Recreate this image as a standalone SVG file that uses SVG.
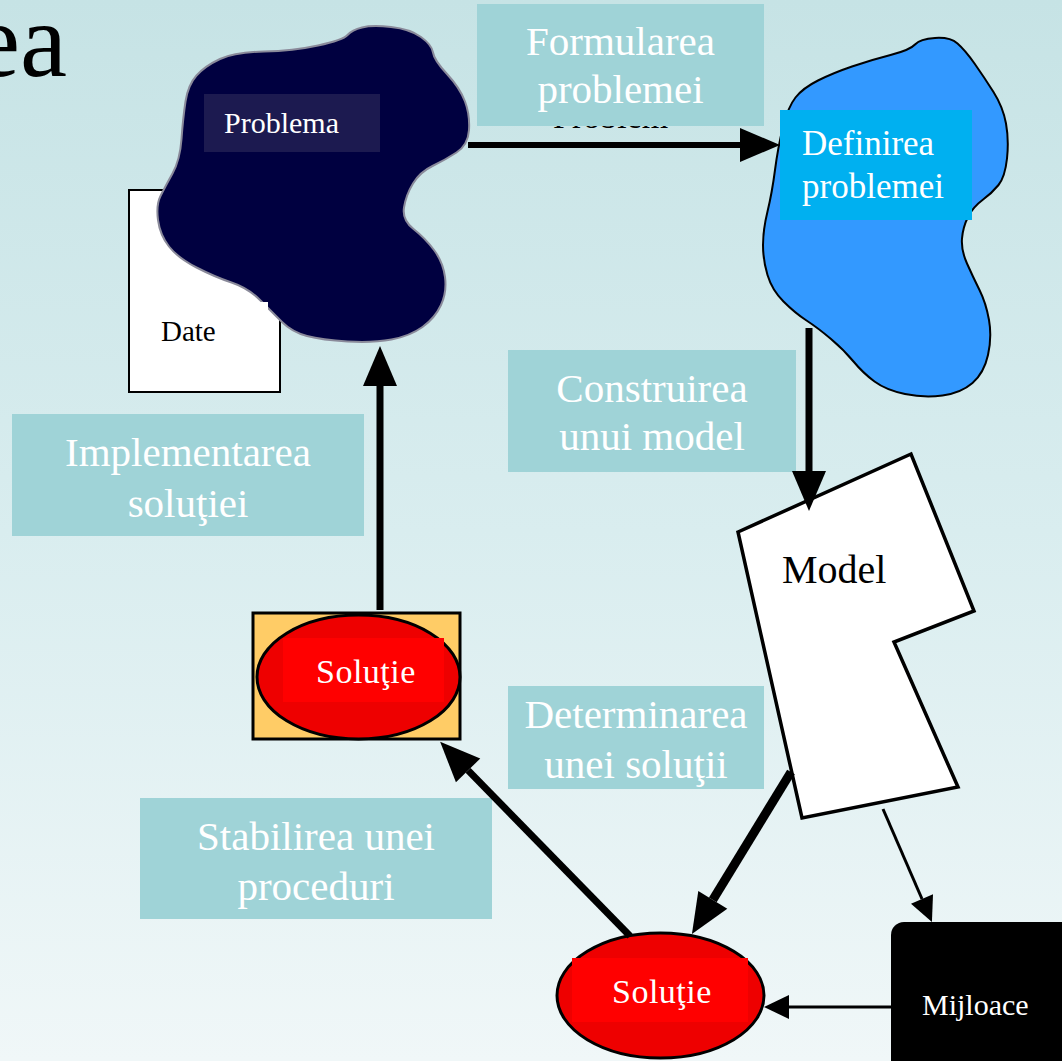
<svg xmlns="http://www.w3.org/2000/svg" width="1062" height="1061" viewBox="0 0 1062 1061">
  <defs>
    <linearGradient id="bg" x1="0" y1="0" x2="0" y2="1">
      <stop offset="0" stop-color="#c6e3e5"/>
      <stop offset="0.5" stop-color="#d9edef"/>
      <stop offset="1" stop-color="#f0f7f8"/>
    </linearGradient>
    <marker id="headBig" viewBox="0 -17 40 34" refX="0" refY="0" markerWidth="40" markerHeight="34" markerUnits="userSpaceOnUse" orient="auto" overflow="visible">
      <path d="M0,-17 L40,0 L0,17 Z" fill="#000"/>
    </marker>
    <marker id="headSmall" viewBox="0 -12 25 24" refX="0" refY="0" markerWidth="25" markerHeight="24" markerUnits="userSpaceOnUse" orient="auto" overflow="visible">
      <path d="M0,-12 L25,0 L0,12 Z" fill="#000"/>
    </marker>
    <style>
      .serif { font-family: "Liberation Serif", "Times New Roman", serif; }
      .step { fill: #9fd3d7; }
      .stepText { font-family: "Liberation Serif", "Times New Roman", serif; font-size: 41px; fill: #ffffff; text-anchor: middle; }
      .edge { stroke: #000; fill: none; }
      .thick { stroke-width: 7; }
      .thin { stroke-width: 3; }
      .sol { fill: #ee0000; stroke: #000; stroke-width: 3; }
      .solInner { fill: #ff0000; }
      .solText { font-family: "Liberation Serif", "Times New Roman", serif; font-size: 34px; fill: #ffffff; letter-spacing: 0.5px; }
    </style>
  </defs>

  <!-- background -->
  <rect x="0" y="0" width="1062" height="1061" fill="url(#bg)"/>

  <!-- title fragment -->
  <text class="serif" x="67" y="76" font-size="106" text-anchor="end" fill="#000">ea</text>

  <!-- step labels -->
  <g id="label-formularea">
    <text class="serif" x="553" y="128" font-size="34" fill="#000">Problem</text>
    <rect class="step" x="477" y="4" width="287" height="122"/>
    <text class="stepText" x="620.5" y="55">Formularea</text>
    <text class="stepText" x="620.5" y="103">problemei</text>
  </g>
  <g id="label-construirea">
    <rect class="step" x="508" y="350" width="288" height="122"/>
    <text class="stepText" x="652" y="402">Construirea</text>
    <text class="stepText" x="652" y="450">unui model</text>
  </g>
  <g id="label-implementarea">
    <rect class="step" x="12" y="414" width="352" height="122"/>
    <text class="stepText" x="188" y="466">Implementarea</text>
    <text class="stepText" x="188" y="517">soluţiei</text>
  </g>
  <g id="label-determinarea">
    <rect class="step" x="508" y="686" width="256" height="103"/>
    <text class="stepText" x="636" y="728">Determinarea</text>
    <text class="stepText" x="636" y="778">unei soluţii</text>
  </g>
  <g id="label-stabilirea">
    <rect class="step" x="140" y="798" width="352" height="121"/>
    <text class="stepText" x="316" y="850">Stabilirea unei</text>
    <text class="stepText" x="316" y="900">proceduri</text>
  </g>

  <!-- Date -->
  <g id="node-date">
    <rect x="129" y="190" width="151" height="202" fill="#fff" stroke="#000" stroke-width="2"/>
  </g>

  <!-- Problema -->
  <g id="node-problema">
    <path d="M318,45.5 Q343,40 347.5,35 Q352,30 362,27.5 Q372,25 391,27 Q410,29 421,37 Q432,45 433,52.5 Q434,60 447,74 Q460,88 465,101.5 Q470,115 469,130 Q468,145 456.5,152.5 Q445,160 432.5,166 Q420,172 413,183.5 Q406,195 404,207.5 Q402,220 413.5,229 Q425,238 434,250 Q443,262 445,277 Q447,292 441,305 Q435,318 422.5,327 Q410,336 391.5,339.5 Q373,343 347.5,341.5 Q322,340 307,336 Q292,332 282,322 Q272,312 260,300 Q248,288 231.5,282.5 Q215,277 196.5,267.5 Q178,258 169,246.5 Q160,235 158,220 Q156,205 160.5,196 Q165,187 172.5,173.5 Q180,160 181.5,139 Q183,118 185.5,101.5 Q188,85 196.5,75.5 Q205,66 220,59 Q235,52 264,51.5 Q293,51 318,45.5 Z" fill="#000040" stroke="#8a8a9a" stroke-width="2"/>
    <rect x="204" y="94" width="176" height="58" fill="#1c1a50"/>
    <text class="serif" x="224" y="133" font-size="30" fill="#fff">Problema</text>
  </g>

  <!-- Date label over the blob edge -->
  <g id="node-date-label">
    <rect x="140" y="302" width="128" height="70" fill="#fff"/>
    <text class="serif" x="161" y="341" font-size="29" fill="#000">Date</text>
  </g>

  <!-- Definirea problemei -->
  <g id="node-definirea">
    <path d="M890.5,55 Q910,50 915,44.5 Q920,39 935,38 Q950,37 957.5,43.5 Q965,50 974.5,63.5 Q984,77 993.5,92 Q1003,107 1006,123.5 Q1009,140 1007,158.5 Q1005,177 998.5,185 Q992,193 982.5,200 Q973,207 968,217 Q963,227 962,238.5 Q961,250 967,263.5 Q973,277 979.5,290 Q986,303 989,320 Q992,337 988,355 Q984,373 972.5,383 Q961,393 942.5,395.5 Q924,398 905,394 Q886,390 874.5,381.5 Q863,373 853.5,361.5 Q844,350 831,339 Q818,328 806.5,320.5 Q795,313 783.5,301.5 Q772,290 767.5,275 Q763,260 763,245 Q763,230 767.5,211.5 Q772,193 775,170 Q778,147 783,127 Q788,107 795.5,97.5 Q803,88 818,80.5 Q833,73 852,66.5 Q871,60 890.5,55 Z" fill="#3399ff" stroke="#000" stroke-width="2"/>
    <rect x="780" y="110" width="192" height="110" fill="#00b0f0"/>
    <text class="serif" x="802" y="155" font-size="35" fill="#fff">Definirea</text>
    <text class="serif" x="802" y="198" font-size="35" fill="#fff">problemei</text>
  </g>

  <!-- Model -->
  <g id="node-model">
    <path d="M738,532 L911,454 L974,611 L894,642 L958,787 L802,818 Z" fill="#fff" stroke="#000" stroke-width="3.5" stroke-linejoin="miter"/>
    <text class="serif" x="782" y="583" font-size="40" fill="#000">Model</text>
  </g>

  <!-- Solutie (implemented) -->
  <g id="node-solutie-top">
    <rect x="253" y="613" width="207" height="126" fill="#ffcc66" stroke="#000" stroke-width="3"/>
    <ellipse class="sol" cx="358.5" cy="677" rx="101.5" ry="62"/>
    <rect class="solInner" x="283" y="638" width="161" height="64"/>
    <text class="solText" x="316" y="683">Soluţie</text>
  </g>

  <!-- Solutie (determined) -->
  <g id="node-solutie-bottom">
    <ellipse class="sol" cx="660.5" cy="995.5" rx="103.5" ry="62.5"/>
    <rect class="solInner" x="572" y="958" width="176" height="64"/>
    <text class="solText" x="612" y="1003">Soluţie</text>
  </g>

  <!-- Mijloace -->
  <g id="node-mijloace">
    <rect x="891" y="922" width="190" height="160" rx="13" ry="13" fill="#000"/>
    <text class="serif" x="922" y="1015" font-size="30" fill="#fff">Mijloace</text>
  </g>

  <!-- connectors -->
  <g id="connectors">
    <line class="edge" x1="468" y1="145" x2="740" y2="145" stroke-width="6" marker-end="url(#headBig)"/>
    <line class="edge thick" x1="809" y1="328" x2="809" y2="471" marker-end="url(#headBig)"/>
    <line class="edge" x1="791" y1="772" x2="712.8" y2="899.8" stroke-width="9" marker-end="url(#headBig)"/>
    <line class="edge thin" x1="883" y1="809" x2="922" y2="899" marker-end="url(#headSmall)"/>
    <line class="edge thin" x1="891" y1="1007" x2="789" y2="1007" marker-end="url(#headSmall)"/>
    <line class="edge thick" x1="630" y1="936" x2="468.1" y2="770.4" marker-end="url(#headBig)"/>
    <line class="edge thick" x1="380" y1="610" x2="380" y2="386" marker-end="url(#headBig)"/>
  </g>
</svg>
